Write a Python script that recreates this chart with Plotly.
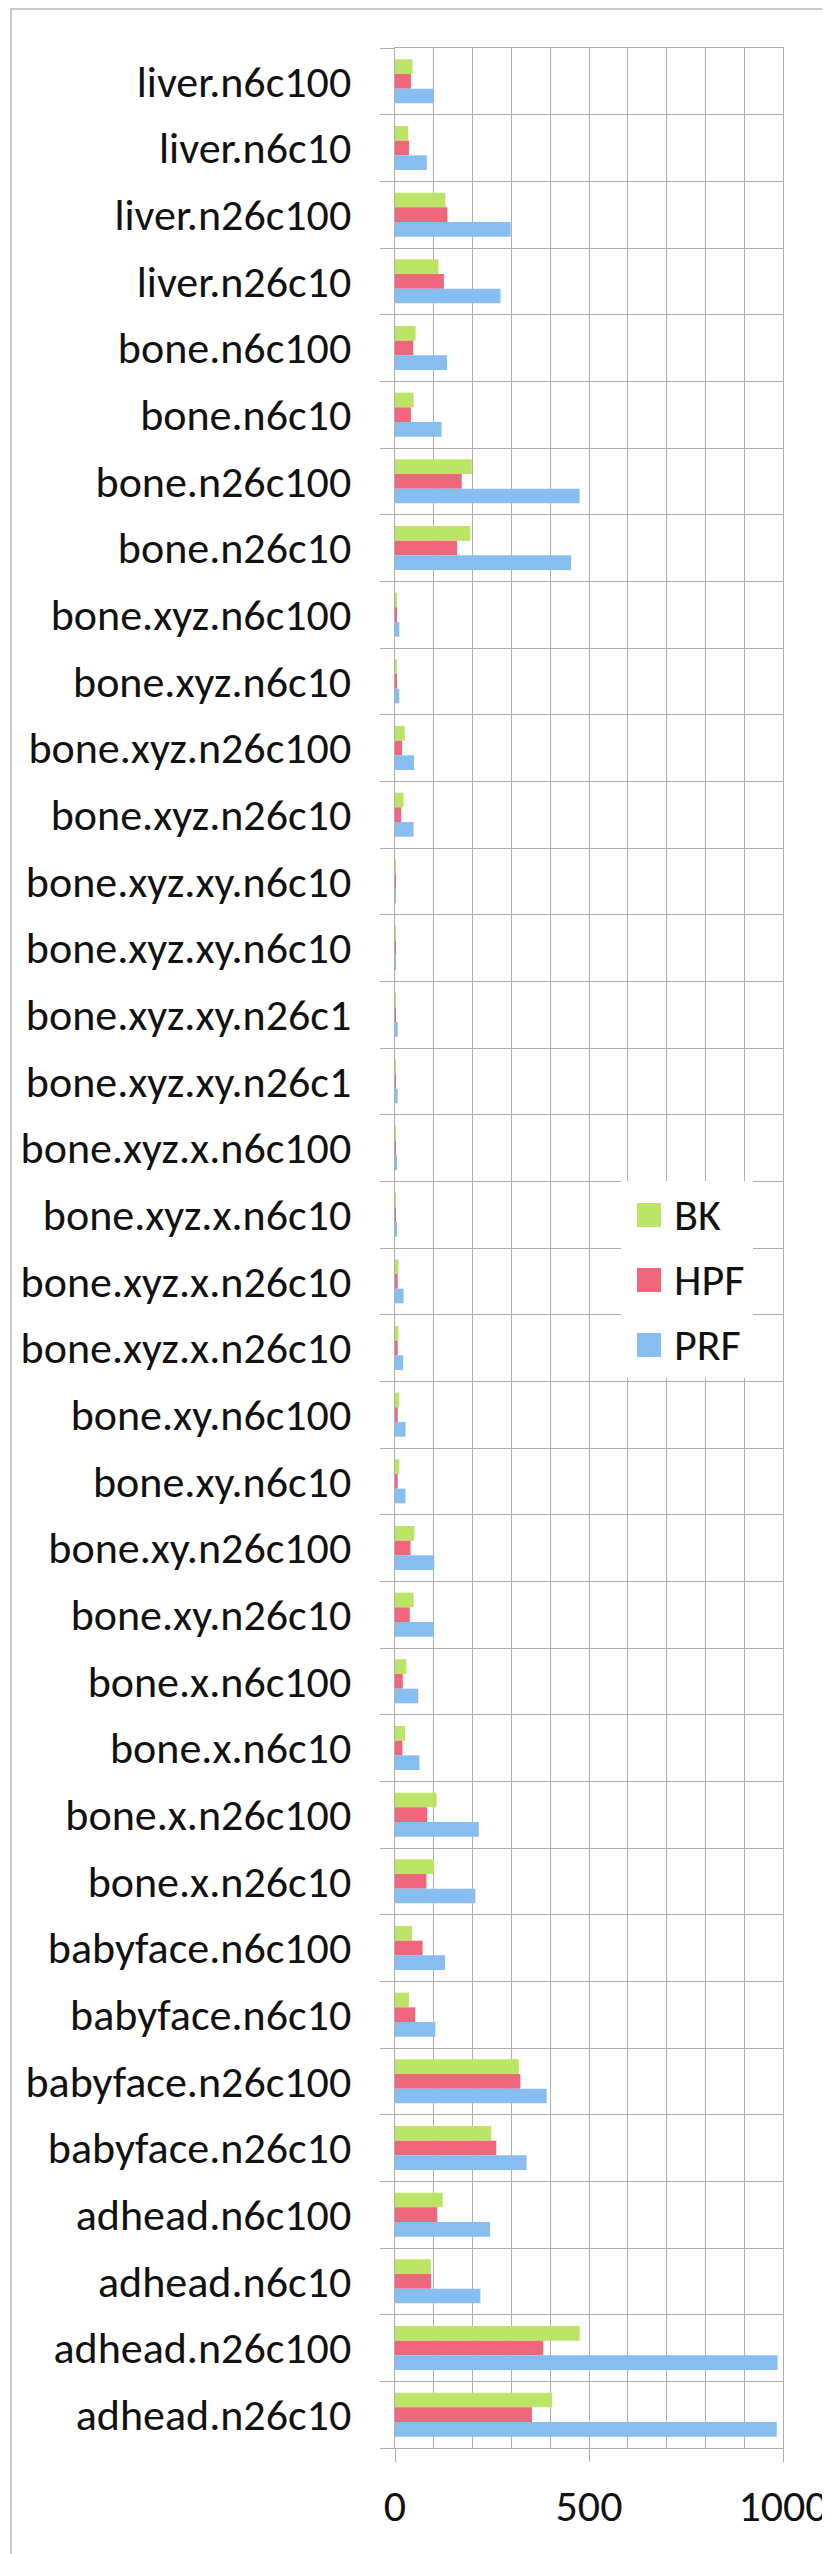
import plotly.graph_objects as go

# categories, top to bottom as shown (labels truncated in the source chart)
labels = [
    "liver.n6c100", "liver.n6c10", "liver.n26c100", "liver.n26c10",
    "bone.n6c100", "bone.n6c10", "bone.n26c100", "bone.n26c10",
    "bone.xyz.n6c100", "bone.xyz.n6c10", "bone.xyz.n26c100", "bone.xyz.n26c10",
    "bone.xyz.xy.n6c10", "bone.xyz.xy.n6c10", "bone.xyz.xy.n26c1", "bone.xyz.xy.n26c1",
    "bone.xyz.x.n6c100", "bone.xyz.x.n6c10", "bone.xyz.x.n26c10", "bone.xyz.x.n26c10",
    "bone.xy.n6c100", "bone.xy.n6c10", "bone.xy.n26c100", "bone.xy.n26c10",
    "bone.x.n6c100", "bone.x.n6c10", "bone.x.n26c100", "bone.x.n26c10",
    "babyface.n6c100", "babyface.n6c10", "babyface.n26c100", "babyface.n26c10",
    "adhead.n6c100", "adhead.n6c10", "adhead.n26c100", "adhead.n26c10",
]

bk = [45, 34, 130, 112, 53, 48, 198, 194,
      4, 4, 25, 22, 1, 1, 2, 2,
      1, 1, 9, 9, 11, 11, 50, 48,
      29, 26, 107, 101, 44, 36, 319, 248,
      123, 92, 476, 405]
hpf = [41, 36, 135, 126, 47, 41, 172, 160,
       3, 3, 18, 16, 1, 1, 2, 2,
       1, 1, 7, 7, 7, 7, 40, 38,
       20, 19, 83, 81, 71, 52, 323, 261,
       109, 93, 382, 353]
prf = [100, 82, 298, 272, 134, 120, 476, 454,
       11, 11, 49, 48, 1, 1, 7, 7,
       4, 4, 22, 21, 27, 27, 101, 100,
       60, 63, 216, 207, 129, 104, 391, 339,
       245, 220, 986, 984]

series_names = ["BK", "HPF", "PRF"]
series_values = [bk, hpf, prf]
series_colors = ["#bde565", "#f0667c", "#88bdf0"]

x_ticks = [0, 500, 1000]

FONT = "Carlito, Lato, sans-serif"
FS = 44
GRID = "#a9b0b0"
idx = list(range(len(labels)))

fig = go.Figure()
for name, vals, col in zip(series_names, series_values, series_colors):
    fig.add_trace(go.Bar(
        y=idx, x=vals, name=name, orientation="h",
        marker=dict(color=col, line=dict(width=0)),
        showlegend=False,
    ))

# hand-drawn legend (Excel style, big swatches)
lx0, lx1, ly0, ly1 = (613 - 387) / 388, (745 - 387) / 388, (2440 - 1370) / 2400, (2440 - 1173) / 2400
shapes = [dict(type="rect", xref="paper", yref="paper", x0=lx0, x1=lx1, y0=ly0, y1=ly1,
               fillcolor="white", line=dict(width=0), layer="above")]
annotations = []
for i, (name, col) in enumerate(zip(series_names, series_colors)):
    cy = (2440 - (1207 + 65 * i)) / 2400
    shapes.append(dict(type="rect", xref="paper", yref="paper",
                       x0=(629 - 387) / 388, x1=(653 - 387) / 388,
                       y0=cy - 12 / 2400, y1=cy + 12 / 2400,
                       fillcolor=col, line=dict(width=0), layer="above"))
    annotations.append(dict(xref="paper", yref="paper", x=(664 - 387) / 388, y=cy,
                            text=name, showarrow=False, xanchor="left", yanchor="middle",
                            font=dict(family=FONT, size=FS, color="#111111")))

# outer chart border
shapes.append(dict(type="rect", xref="paper", yref="paper",
                   x0=(3 - 387) / 388, x1=(826 - 387) / 388,
                   y0=(2440 - 2552) / 2400, y1=(2440 - 1) / 2400,
                   line=dict(color="#c3cbcb", width=2), fillcolor="rgba(0,0,0,0)"))

fig.update_layout(
    width=830, height=2554,
    margin=dict(l=387, r=55, t=40, b=114, autoexpand=False),
    barmode="group", bargap=0.34, bargroupgap=0,
    plot_bgcolor="white", paper_bgcolor="white",
    font=dict(family=FONT, size=FS, color="#111111"),
    shapes=shapes, annotations=annotations,
)
fig.update_xaxes(
    range=[0, 1000], tickvals=x_ticks, ticks="outside", ticklen=13, tickcolor=GRID,
    showgrid=True, gridcolor=GRID, gridwidth=1, zeroline=False,
    minor=dict(dtick=100, tick0=0, showgrid=True, gridcolor=GRID, ticks=""),
    showline=True, mirror=True, linecolor=GRID, linewidth=1,
    ticklabelstandoff=6, automargin=False,
)
fig.update_yaxes(
    range=[len(labels) - 0.5, -0.5], tickvals=idx, ticktext=labels, ticks="",
    showgrid=False, zeroline=False,
    minor=dict(tickmode="linear", tick0=-0.5, dtick=1, showgrid=True, gridcolor=GRID,
               ticks="outside", ticklen=14, tickcolor=GRID),
    showline=True, mirror=True, linecolor=GRID, linewidth=1,
    ticklabelstandoff=34, automargin=False,
)

fig.write_html("out.html")
